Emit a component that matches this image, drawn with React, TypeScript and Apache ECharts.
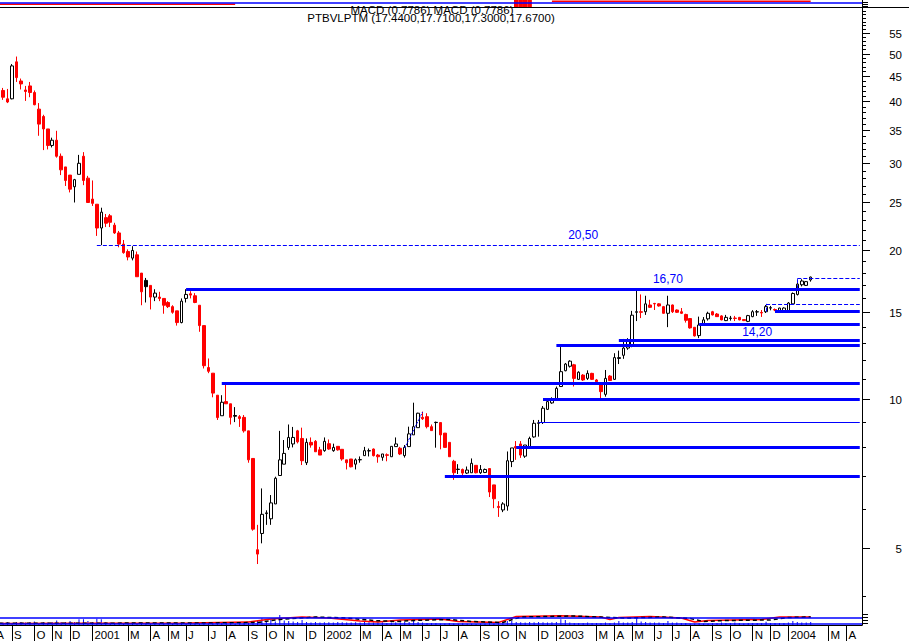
import React, { useEffect, useRef } from 'react';
import * as echarts from 'echarts';

// ---------------- data ----------------
const AXIS_START_UTC = Date.UTC(2000, 7, 4); // first weekly slot (Friday 2000-08-04)
const AXIS_WEEKS = 195;
const DAY_MS = 86400000;
const FIRST_DATA_SLOT = 1; // first candle = week of 2000-08-11

const weeks: string[] = [];
for (let i = 0; i < AXIS_WEEKS; i++) {
  weeks.push(new Date(AXIS_START_UTC + i * 7 * DAY_MS).toISOString().slice(0, 10));
}

const monthLetters = ['', 'F', 'M', 'A', 'M', 'J', 'J', 'A', 'S', 'O', 'N', 'D'];
const majorPriceTicks = [5, 10, 15, 20, 25, 30, 35, 40, 45, 50, 55];
const minorPriceTicks = [4, 6, 7, 8, 9, 11, 12, 13, 14, 16, 17, 18, 19, 21, 22, 23, 24, 26, 27, 28, 29,
  31, 32, 33, 34, 36, 37, 38, 39, 41, 42, 43, 44, 46, 47, 48, 49, 51, 52, 53, 54, 56, 57, 58, 59, 60, 61];
const volumeTicks = [2, 5, 8, 11];
const macdTicks = [1, 3, 5.3];

const headerMacd = 'MACD (0.7786) MACD (0.7786)';
const headerPrice = 'PTBVLPTM (17.4400,17.7100,17.3000,17.6700)';

// weekly [open, close, low, high], from week of 2000-08-11
const ohlc: number[][] = [
  [45.2, 42.3, 41.6, 45.7], [42.1, 40.8, 40.3, 42.6], [40.5, 39.9, 39.7, 42.4], [40.5, 47.2, 40.4, 47.6],
  [48.1, 44.7, 43.8, 49.3], [44.0, 43.4, 42.3, 44.5], [42.2, 41.9, 40.1, 43.0], [43.0, 41.7, 40.8, 43.8],
  [41.7, 39.4, 39.3, 42.1], [38.6, 36.0, 34.1, 39.7], [37.3, 35.2, 31.9, 37.6], [35.2, 32.6, 32.0, 35.2],
  [32.6, 33.4, 32.3, 33.8], [33.4, 31.0, 30.8, 34.9], [31.0, 29.1, 28.4, 31.4], [29.5, 27.7, 27.0, 29.5],
  [28.4, 26.6, 26.2, 28.4], [26.9, 27.8, 25.0, 27.9], [28.5, 30.0, 28.5, 31.2], [31.0, 27.7, 27.1, 31.6],
  [28.0, 25.0, 25.0, 28.3], [25.4, 24.9, 24.6, 27.7], [24.8, 22.2, 21.4, 24.8], [22.2, 23.9, 20.5, 24.4],
  [23.3, 22.7, 22.3, 23.7], [23.5, 22.8, 22.3, 23.7], [22.5, 21.7, 21.6, 22.75], [21.7, 20.6, 20.3, 21.9],
  [20.6, 19.8, 19.7, 21.0], [19.9, 19.4, 19.1, 20.1], [19.3, 20.0, 19.1, 20.4], [19.6, 17.7, 17.7, 19.9],
  [18.0, 16.5, 15.5, 18.0], [17.4, 16.9, 15.7, 17.6], [17.0, 16.1, 15.2, 17.0], [16.1, 16.4, 15.8, 16.7],
  [16.1, 16.0, 15.8, 16.5], [16.0, 15.5, 14.9, 16.0], [15.7, 15.4, 15.3, 15.8], [15.4, 15.0, 14.9, 15.5],
  [15.1, 14.3, 14.1, 15.1], [14.3, 15.8, 14.25, 16.0], [16.0, 16.3, 15.7, 16.7], [16.35, 16.25, 16.0, 16.55],
  [16.2, 15.7, 15.65, 16.4], [15.5, 14.1, 13.7, 15.5], [14.1, 11.7, 11.55, 14.1], [11.6, 11.4, 11.3, 12.1],
  [11.3, 10.3, 10.1, 11.3], [10.2, 9.19, 9.09, 10.2], [9.27, 9.87, 9.27, 10.2], [9.9, 9.8, 9.8, 10.8],
  [9.8, 9.2, 8.9, 9.8], [9.28, 9.25, 9.0, 9.65], [9.23, 9.15, 8.8, 9.3], [9.2, 8.64, 8.57, 9.3],
  [8.64, 7.55, 7.45, 8.64], [7.6, 5.47, 5.43, 7.6], [4.97, 4.87, 4.65, 5.58], [5.36, 5.86, 5.12, 6.61],
  [5.88, 5.9, 5.58, 5.97], [5.74, 6.18, 5.58, 6.41], [6.15, 6.93, 6.15, 6.98], [7.02, 7.55, 7.02, 8.64],
  [7.4, 7.78, 7.4, 8.28], [8.0, 8.38, 7.91, 8.9], [8.13, 8.38, 8.0, 8.8], [8.64, 8.21, 8.15, 8.68],
  [8.34, 7.52, 7.37, 8.77], [7.45, 8.19, 7.37, 8.34], [8.19, 8.09, 7.99, 8.38], [8.23, 7.84, 7.84, 8.28],
  [7.91, 7.72, 7.72, 8.02], [7.88, 8.23, 7.84, 8.38], [8.14, 7.94, 7.91, 8.3], [7.88, 8.0, 7.84, 8.14],
  [8.04, 7.91, 7.88, 8.04], [7.93, 7.58, 7.52, 7.93], [7.55, 7.45, 7.22, 7.55], [7.58, 7.31, 7.29, 7.58],
  [7.4, 7.55, 7.22, 7.6], [7.55, 7.56, 7.45, 7.67], [7.7, 7.88, 7.7, 8.02], [7.87, 7.88, 7.67, 7.96],
  [7.94, 7.7, 7.67, 7.96], [7.72, 7.66, 7.45, 7.76], [7.64, 7.76, 7.52, 7.76], [7.73, 7.71, 7.5, 7.78],
  [7.66, 8.04, 7.66, 8.04], [8.03, 8.13, 8.03, 8.38], [7.97, 7.76, 7.72, 8.02], [7.7, 8.0, 7.63, 8.09],
  [8.03, 8.52, 8.03, 8.81], [8.48, 8.81, 8.48, 9.85], [8.77, 9.38, 8.77, 9.4], [9.2, 9.14, 9.09, 9.45],
  [9.23, 8.81, 8.74, 9.38], [8.81, 8.65, 8.65, 8.9], [8.99, 8.98, 7.99, 9.02], [8.98, 8.48, 7.93, 8.98],
  [8.55, 8.0, 8.0, 8.55], [8.19, 7.66, 7.66, 8.19], [7.5, 7.11, 6.88, 7.55], [7.22, 7.23, 7.07, 7.4],
  [7.22, 7.1, 7.02, 7.25], [7.1, 7.2, 7.07, 7.32], [7.11, 7.43, 7.11, 7.6], [7.36, 7.11, 7.09, 7.36],
  [7.11, 7.22, 7.07, 7.37], [7.12, 7.22, 7.1, 7.25], [7.25, 6.5, 6.35, 7.25], [6.72, 6.3, 6.03, 6.72],
  [6.08, 6.05, 5.79, 6.23], [5.98, 6.15, 5.92, 6.2], [6.09, 7.52, 5.96, 7.85], [7.49, 7.98, 7.3, 7.98],
  [8.03, 7.98, 7.55, 8.24], [8.13, 7.72, 7.62, 8.24], [7.68, 8.09, 7.62, 8.09], [8.02, 8.34, 8.0, 8.41],
  [8.4, 8.95, 8.37, 9.09], [8.95, 8.97, 8.41, 9.09], [8.98, 9.6, 8.92, 9.7], [9.55, 9.9, 9.52, 10.05],
  [9.84, 10.02, 9.8, 10.1], [10.0, 10.53, 10.0, 10.62], [10.62, 11.38, 10.6, 12.76], [11.43, 11.79, 11.4, 11.85],
  [11.67, 11.95, 11.6, 12.0], [11.75, 11.03, 10.62, 11.8], [10.98, 11.35, 10.95, 11.4], [11.2, 10.95, 10.9, 11.25],
  [11.03, 11.29, 10.95, 11.45], [11.29, 10.98, 10.95, 11.32], [10.95, 10.86, 10.8, 11.0], [10.7, 10.37, 10.0, 10.75],
  [10.24, 11.03, 10.13, 11.47], [11.15, 10.92, 10.9, 11.2], [10.98, 12.15, 10.95, 12.4], [12.1, 12.15, 11.79, 12.55],
  [12.28, 12.7, 12.08, 13.25], [12.7, 13.1, 12.6, 13.3], [12.8, 14.8, 12.75, 15.1], [15.0, 15.04, 14.4, 16.7],
  [15.04, 15.0, 14.6, 16.3], [15.04, 15.6, 14.82, 16.2], [15.52, 15.35, 15.3, 15.9], [15.63, 15.6, 15.16, 15.67],
  [15.6, 15.45, 15.4, 15.65], [15.4, 14.93, 14.9, 15.45], [14.93, 15.52, 14.0, 16.2], [15.52, 15.04, 14.95, 15.55],
  [15.16, 15.0, 14.95, 15.2], [15.04, 14.93, 14.88, 15.3], [14.85, 14.45, 14.3, 14.9], [14.57, 13.95, 13.9, 14.6],
  [13.99, 13.44, 13.4, 14.0], [13.46, 14.14, 13.3, 14.7], [14.14, 14.48, 14.1, 14.67], [14.55, 14.93, 14.43, 15.04],
  [15.04, 14.82, 14.78, 15.1], [14.88, 14.7, 14.68, 14.95], [14.75, 14.48, 14.45, 14.8], [14.43, 14.65, 14.4, 14.82],
  [14.58, 14.6, 14.43, 14.75], [14.6, 14.58, 14.4, 14.75], [14.65, 14.48, 14.45, 14.68], [14.5, 14.43, 14.4, 14.52],
  [14.38, 14.77, 14.33, 14.82], [14.7, 15.04, 14.66, 15.15], [15.02, 15.04, 14.75, 15.16], [14.99, 14.95, 14.68, 15.16],
  [15.04, 15.4, 14.95, 15.52], [15.3, 15.32, 15.14, 15.45], [15.19, 15.16, 15.08, 15.27], [15.1, 15.3, 15.05, 15.32],
  [15.04, 15.3, 15.0, 15.35], [15.04, 15.66, 15.0, 15.73], [15.6, 16.37, 15.55, 16.45], [16.3, 17.1, 16.22, 17.45],
  [17.05, 17.35, 16.92, 17.5], [17.0, 17.3, 16.95, 17.35], [17.44, 17.67, 17.3, 17.71],
];
// indices (into ohlc) of candles drawn solid black
const blackCandles = [33, 53, 98, 103, 164, 173];

// weekly volume (arbitrary units), same weeks as ohlc
const volume: number[] = [
  2.5, 2.5, 3, 2, 3, 3, 2.5, 3, 3.5, 2,
  3, 2.5, 3, 4.5, 3, 3, 4, 3, 5.7, 5.7,
  4, 3, 6.3, 5.7, 3, 2.5, 2, 2, 1.5, 1.5,
  2, 1.5, 2, 1.5, 1.5, 2, 1.5, 1.5, 2, 2,
  1.5, 2, 1.5, 2, 1.5, 2, 2.5, 1.5, 2, 2,
  2, 2.5, 2, 1.5, 2, 2, 2.5, 3, 4, 6.7,
  3, 5.7, 3.5, 10, 4.5, 4, 3.5, 3, 5, 3,
  2.5, 3, 2.5, 2.7, 2.7, 2.5, 3, 2.7, 2.5, 2.5,
  2.7, 2.5, 3, 2.7, 2.5, 2.7, 2.7, 2, 2.5, 2.7,
  2.7, 3, 3, 5.7, 3, 2.5, 2, 2, 2, 1.5,
  1.5, 2, 1.5, 1.5, 2, 1.5, 1.5, 1, 1.5, 1.5,
  2, 1.5, 2, 2.5, 4, 4, 3, 2.7, 2.5, 3,
  2.7, 3, 2.7, 2.5, 2.7, 3, 5.7, 5, 2.5, 2,
  2, 2, 2.5, 2, 2, 2, 2.5, 2, 2.5, 4,
  2.5, 2.5, 3, 7.7, 3.5, 3, 2.5, 2.5, 2.5, 2,
  4, 2.5, 2.5, 2, 2, 1.5, 1.5, 2, 1.5, 1.5,
  2, 2, 2.5, 2, 2, 2.5, 2, 1.5, 2, 2,
  2, 2, 3.3, 2, 2, 2, 2, 2.5, 4, 3,
  2.5, 2.5, 3,
];
// volume moving averages, [ohlc index, value]
const volumeAvgRed: number[][] = [[0, 1.5], [43, 2], [56, 3], [61, 6], [68, 8], [74, 7], [81, 4], [85, 3], [90, 5],
  [99, 6], [103, 3.5], [112, 2.5], [116, 8.5], [126, 9.3], [135, 8], [137, 5.5], [139, 7.5], [146, 8.5], [153, 7],
  [156, 3], [159, 4.5], [171, 5.5], [175, 8], [182, 8]];
const volumeAvgBlack: number[][] = [[0, 1.7], [46, 2], [58, 2.5], [63, 5.5], [71, 8], [78, 7], [84, 4.5], [89, 3.5],
  [93, 4.5], [101, 5.5], [106, 3.5], [113, 2.5], [117, 8], [129, 9], [137, 7.5], [141, 7], [149, 8], [155, 6.5],
  [158, 3.5], [163, 4.5], [173, 5], [177, 7.5], [182, 8]];
const volumeRefLevels = [7.7, 1.7];

// MACD strip
const macdSignalA: number[][] = [[0, 2.7], [53, 2.7]];
const macdSignalB: number[][] = [[124, 5.7], [182, 5.7]];
const macdBlock: number[][] = [[116, 7], [117, 7], [118, 7], [119, 7]];
const macdZero = 4.7;

// horizontal support / resistance lines: [start ohlc index, price, kind]
const levelLines: [number, number, string][] = [
  [22, 20.5, 'dashed'], [42, 16.7, 'thick'], [50, 10.8, 'thick'], [100, 7.0, 'thick'],
  [116, 8.0, 'thick'], [121, 9.0, 'thin'], [122, 10.0, 'thick'], [125, 12.85, 'thick'],
  [139, 13.2, 'thick'], [157, 14.2, 'thick'], [174, 15.05, 'thick'], [172, 15.6, 'dashed'],
  [179, 17.6, 'dashed'],
];
// short dashed segments: [from index, from price, to index, to price]
const dashedSegments: number[][] = [
  [179, 16.7, 179, 17.6], [172, 15.05, 172, 15.6], [181, 16.8, 183, 16.8],
];
const trendLine: number[][] = [[91, 7.98], [95, 9.43]];
// price annotations: [ohlc index, price, text, above?]
const priceNotes: [number, number, string, boolean][] = [
  [131, 20.5, '20,50', true], [150, 16.7, '16,70', true], [170, 14.2, '14,20', false],
];

// ---------------- chart ----------------
const FONT = '"Liberation Sans", Arial, Helvetica, sans-serif';
const BLUE = '#0000ff';
const RED = '#ff0000';
const SHIFT = 8; // chart div starts 8px left of the page so the first (partial) weeks are cut off
const PAGE_W = 909;
const AXIS_X = 862 + SHIFT; // right price axis, in chart coordinates

const slot = (j: number) => j + FIRST_DATA_SLOT;

const isMonthStart = (d: string) => Number(d.slice(8, 10)) <= 7;
const showMonth = (_i: number, d: string) => isMonthStart(d) && d.slice(5, 7) !== '02';
const monthLabel = (d: string) => {
  const m = Number(d.slice(5, 7));
  return m === 1 ? d.slice(0, 4) : monthLetters[m - 1];
};

function lineStyleOf(kind: string) {
  if (kind === 'thick') return { color: BLUE, width: 3, type: 'solid' };
  if (kind === 'thin') return { color: BLUE, width: 1, type: 'solid' };
  return { color: BLUE, width: 1, type: [4, 2] };
}

function buildOption(): any {
  const candleData = weeks.map((_, s) => {
    const j = s - FIRST_DATA_SLOT;
    if (j < 0 || j >= ohlc.length) return ['-', '-', '-', '-'];
    if (blackCandles.includes(j)) {
      return { value: ohlc[j], itemStyle: { color: '#000', color0: '#000', borderColor: '#000', borderColor0: '#000' } };
    }
    return ohlc[j];
  });
  const volumeData = weeks.map((_, s) => {
    const j = s - FIRST_DATA_SLOT;
    return j >= 0 && j < volume.length ? volume[j] : '-';
  });
  const lastSlot = AXIS_WEEKS - 1;
  const markLines: any[] = levelLines.map(([j, p, kind]) => [
    { coord: [slot(j), p], lineStyle: lineStyleOf(kind) },
    { coord: [lastSlot, p] },
  ]);
  dashedSegments.forEach(([j1, p1, j2, p2]) => {
    markLines.push([{ coord: [slot(j1), p1], lineStyle: lineStyleOf('dashed') }, { coord: [slot(j2), p2] }]);
  });
  markLines.push([
    { coord: [slot(trendLine[0][0]), trendLine[0][1]], lineStyle: { color: BLUE, width: 1, type: [2, 1] } },
    { coord: [slot(trendLine[1][0]), trendLine[1][1]] },
  ]);

  const hiddenX = (gridIndex: number) => ({
    type: 'category', gridIndex, data: weeks, boundaryGap: true, show: false,
  });
  const gridRight = PAGE_W + SHIFT - AXIS_X;

  return {
    animation: false,
    backgroundColor: '#fff',
    grid: [
      { left: 0, right: gridRight, top: 8, height: 604 },
      { left: 0, right: gridRight, top: 598, height: 27 },
      { left: 0, right: gridRight, top: 0, height: 7 },
    ],
    xAxis: [
      hiddenX(0),
      {
        type: 'category', gridIndex: 1, data: weeks, boundaryGap: true,
        axisLine: { show: true, lineStyle: { color: '#000', width: 1 } },
        axisTick: { show: true, interval: showMonth, alignWithLabel: true, length: 16, lineStyle: { color: '#000' } },
        axisLabel: {
          show: true, interval: showMonth, formatter: monthLabel, align: 'left', padding: [0, 0, 0, 2],
          margin: 4, fontSize: 11.5, fontFamily: FONT, color: '#000',
        },
        splitLine: { show: false },
      },
      hiddenX(2),
    ],
    yAxis: [
      {
        type: 'log', logBase: 10, gridIndex: 0, position: 'right', min: 3.72, max: 61.79,
        axisLine: { show: true, lineStyle: { color: '#000' } },
        axisTick: { show: false }, axisLabel: { show: false }, splitLine: { show: false }, minorTick: { show: false },
      },
      {
        type: 'value', gridIndex: 1, position: 'right', min: 0, max: 27,
        axisLine: { show: true, lineStyle: { color: '#000' } },
        axisTick: { show: false }, axisLabel: { show: false }, splitLine: { show: false },
      },
      {
        type: 'value', gridIndex: 2, position: 'right', min: 0, max: 7,
        axisLine: { show: true, lineStyle: { color: '#000' } },
        axisTick: { show: false }, axisLabel: { show: false }, splitLine: { show: false },
      },
    ],
    series: [
      {
        type: 'candlestick', xAxisIndex: 0, yAxisIndex: 0, data: candleData, barWidth: 3,
        itemStyle: { color: '#fff', color0: RED, borderColor: '#000', borderColor0: RED, borderWidth: 1 },
        markLine: { symbol: 'none', silent: true, animation: false, label: { show: false }, data: markLines },
      },
      {
        type: 'bar', xAxisIndex: 1, yAxisIndex: 1, data: volumeData, barWidth: 1,
        itemStyle: { color: BLUE },
        markLine: {
          symbol: 'none', silent: true, animation: false, label: { show: false },
          lineStyle: { color: BLUE, width: 1.5, type: 'solid' },
          data: volumeRefLevels.map((v) => ({ yAxis: v })),
        },
      },
      {
        type: 'line', xAxisIndex: 1, yAxisIndex: 1, symbol: 'none',
        data: volumeAvgRed.map(([j, v]) => [slot(j), v]), lineStyle: { color: RED, width: 1.5 },
      },
      {
        type: 'line', xAxisIndex: 1, yAxisIndex: 1, symbol: 'none',
        data: volumeAvgBlack.map(([j, v]) => [slot(j), v]), lineStyle: { color: '#000', width: 1.5, type: [4, 3] },
      },
      {
        type: 'line', xAxisIndex: 2, yAxisIndex: 2, symbol: 'none',
        data: macdSignalA.map(([j, v]) => [slot(j), v]), lineStyle: { color: RED, width: 1.5 },
        markLine: {
          symbol: 'none', silent: true, animation: false, label: { show: false },
          lineStyle: { color: BLUE, width: 1.5, type: 'solid' }, data: [{ yAxis: macdZero }],
        },
      },
      {
        type: 'line', xAxisIndex: 2, yAxisIndex: 2, symbol: 'none',
        data: macdSignalB.map(([j, v]) => [slot(j), v]), lineStyle: { color: RED, width: 1.5 },
      },
      {
        type: 'bar', xAxisIndex: 2, yAxisIndex: 2, barWidth: 4.5,
        data: macdBlock.map(([j, v]) => [slot(j), v]), itemStyle: { color: RED },
      },
    ],
  };
}

export default function App() {
  const ref = useRef<HTMLDivElement>(null);
  useEffect(() => {
    const el = ref.current;
    if (!el) return;
    const chart = echarts.init(el, null, { renderer: 'svg' });
    chart.setOption(buildOption());

    const yPx = (axis: number, v: number) => Math.round(chart.convertToPixel({ yAxisIndex: axis } as any, v) as number) + 0.5;
    const xPx = (s: number) => chart.convertToPixel({ xAxisIndex: 0 } as any, s) as number;
    const els: any[] = [];
    const tick = (y: number, len: number) => ({
      type: 'line', silent: true, z: 10,
      shape: { x1: AXIS_X, y1: y, x2: AXIS_X + len, y2: y },
      style: { stroke: '#000', lineWidth: 1 },
    });
    majorPriceTicks.forEach((v) => {
      const y = yPx(0, v);
      els.push(tick(y, 8));
      els.push({
        type: 'text', silent: true, z: 10, x: 902 + SHIFT, y,
        style: { text: String(v), font: `11.5px ${FONT}`, fill: '#000', align: 'right', verticalAlign: 'middle', textAlign: 'right', textVerticalAlign: 'middle' },
      });
    });
    minorPriceTicks.forEach((v) => els.push(tick(yPx(0, v), 4)));
    volumeTicks.forEach((v) => els.push(tick(yPx(1, v), 6)));
    macdTicks.forEach((v) => els.push(tick(yPx(2, v), 6)));

    priceNotes.forEach(([j, p, text, above]) => {
      const y = chart.convertToPixel({ yAxisIndex: 0 } as any, p) as number;
      els.push({
        type: 'text', silent: true, z: 10, x: xPx(slot(j)), y: above ? y - 4 : y + 2,
        style: {
          text, font: `12px ${FONT}`, fill: BLUE, align: 'center', textAlign: 'center',
          verticalAlign: above ? 'bottom' : 'top', textVerticalAlign: above ? 'bottom' : 'top',
        },
      });
    });

    els.push({
      type: 'text', silent: true, z: 10, x: 432 + SHIFT, y: 9.5,
      style: { text: headerMacd, font: `11.5px ${FONT}`, lineHeight: 8, fill: '#000', align: 'center', textAlign: 'center', verticalAlign: 'middle', textVerticalAlign: 'middle' },
    });
    els.push({
      type: 'text', silent: true, z: 10, x: 431 + SHIFT, y: 17.5,
      style: { text: headerPrice, font: `11.5px ${FONT}`, lineHeight: 8, fill: '#000', align: 'center', textAlign: 'center', verticalAlign: 'middle', textVerticalAlign: 'middle' },
    });
    els.push({
      type: 'line', silent: true, z: 20,
      shape: { x1: 0, y1: 7.5, x2: PAGE_W + SHIFT, y2: 7.5 },
      style: { stroke: '#000', lineWidth: 1 },
    });

    chart.setOption({ graphic: els });
    return () => chart.dispose();
  }, []);
  return <div ref={ref} style={{ position: 'fixed', left: -SHIFT, top: 0, width: PAGE_W + SHIFT, height: 641 }} />;
}
